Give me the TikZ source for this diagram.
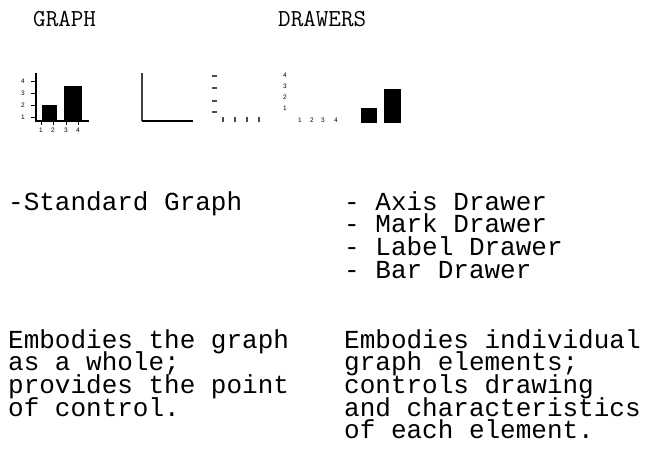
\documentclass[tikz,border=0pt]{standalone}
\usepackage{fontspec}
\newfontfamily\bodyfont{Liberation Mono}
\newfontfamily\tinyfont{Liberation Sans}
\begin{document}
\begin{tikzpicture}[x=1pt,y=-1pt,
  body/.style={anchor=base west,inner sep=0pt,font=\bodyfont\fontsize{26}{26}\selectfont},
  title/.style={anchor=base west,inner sep=0pt,font=\ttfamily\fontsize{24.4}{24.4}\selectfont},
  tick/.style={inner sep=0pt,font=\tinyfont\fontsize{6.5}{6.5}\selectfont},
  axisline/.style={line width=1.8pt},
  markline/.style={line width=1.2pt,black!70}]
\useasboundingbox[fill=white] (0,0) rectangle (648,463);
% titles
\node[title] (tg) at (33,27) {GRAPH};
\node[title] (td) at (278,27) {DRAWERS};
% graphic 1: standard graph
\draw[axisline] (36,73) -- (36,121) -- (89,121);
\foreach \y/\l in {81/4,93/3,105/2,117/1}{
  \draw[line width=1pt] (31,\y) -- (36,\y);
  \node[tick] (gy\l) at (23,\y) {\l};}
\foreach \x/\l in {41/1,53/2,66/3,78/4}{
  \draw[line width=1pt] (\x,121) -- (\x,125);
  \node[tick] (gx\l) at (\x,130) {\l};}
\fill (42,105) rectangle (57,121);
\fill (64,86) rectangle (82,121);
% graphic 2: axis drawer
\draw[line width=1.4pt,black!75] (142,73) -- (142,121);
\draw[axisline] (142,121) -- (193,121);
% mark drawer
\foreach \y in {76,88,101,112}{\draw[markline] (212,\y) -- (217,\y);}
\foreach \x in {223,235,247,259}{\draw[markline] (\x,117) -- (\x,122);}
% label drawer
\foreach \y/\l in {75/4,86/3,97/2,108/1}{\node[tick] (ly\l) at (285,\y) {\l};}
\foreach \x/\l in {300/1,312/2,323/3,336/4}{\node[tick] (lx\l) at (\x,120) {\l};}
% bar drawer
\fill (361,108) rectangle (377,123);
\fill (384,89) rectangle (401,123);
% left column
\node[body] (l1) at (8,210) {-Standard Graph};
\node[body] (l2) at (8,348) {Embodies the graph};
\node[body] (l3) at (8,370.7) {as a whole;};
\node[body] (l4) at (8,393.4) {provides the point};
\node[body] (l5) at (8,416) {of control.};
% right column
\node[body] (r1) at (344,210) {- Axis Drawer};
\node[body] (r2) at (344,232.7) {- Mark Drawer};
\node[body] (r3) at (344,255.4) {- Label Drawer};
\node[body] (r4) at (344,278) {- Bar Drawer};
\node[body] (r5) at (344,348) {Embodies individual};
\node[body] (r6) at (344,370.7) {graph elements;};
\node[body] (r7) at (344,393.4) {controls drawing};
\node[body] (r8) at (344,416) {and characteristics};
\node[body] (r9) at (344,438.8) {of each element.};
\end{tikzpicture}
\end{document}
